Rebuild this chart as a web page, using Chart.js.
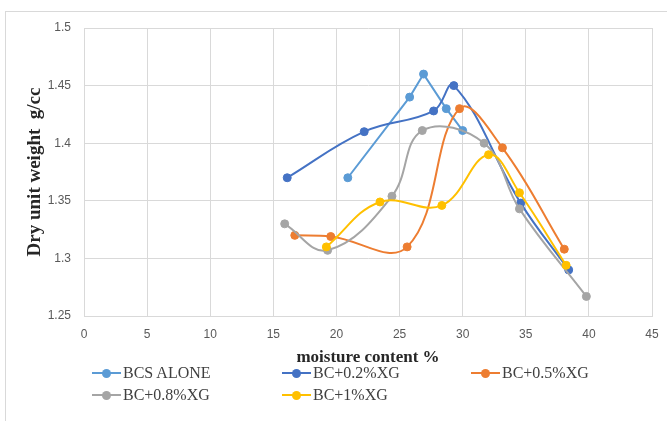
<!DOCTYPE html>
<html>
<head>
<meta charset="utf-8">
<script src="https://cdn.jsdelivr.net/npm/chart.js@4.4.1/dist/chart.umd.min.js"></script>
<style>
  html, body { margin: 0; padding: 0; background: #fff; }
  #wrap { position: relative; width: 667px; height: 421px; overflow: hidden; }
  #frame { position: absolute; left: 5px; top: 11px; width: 700px; height: 500px; border: 1px solid #d9d9d9; }
  #myChart { position: absolute; left: 0; top: 0; }
  .leg { position: absolute; font-family: "Liberation Serif", "Times New Roman", serif; font-size: 16px; color: #404040; height: 20px; line-height: 20px; white-space: nowrap; }
  .leg .ln { position: absolute; left: 0; top: 9px; width: 29px; height: 2px; }
  .leg .dot { position: absolute; left: 10px; top: 6px; width: 9px; height: 9px; border-radius: 50%; }
  .leg .tx { position: absolute; left: 31px; top: 0; }
</style>
</head>
<body>
<div id="wrap">
  <div id="frame"></div>
  <canvas id="myChart" width="667" height="421"></canvas>
</div>
<script>
// series names + colours (Excel office palette)
const seriesNames = ['BCS ALONE', 'BC+0.2%XG', 'BC+0.5%XG', 'BC+0.8%XG', 'BC+1%XG']
const seriesColors = ['#5B9BD5', '#4472C4', '#ED7D31', '#A5A5A5', '#FFC000']

// moisture content % / dry unit weight g/cc
const bcsX = [20.9, 25.8, 26.9, 28.7, 30.0]
const bcsY = [1.370, 1.440, 1.460, 1.430, 1.411]

const xg02X = [16.1, 22.2, 27.7, 29.3, 34.6, 38.4]
const xg02Y = [1.370, 1.410, 1.428, 1.450, 1.348, 1.290]

const xg05X = [16.7, 19.55, 25.6, 29.75, 33.15, 38.05]
const xg05Y = [1.320, 1.319, 1.310, 1.430, 1.396, 1.308]

const xg08X = [15.9, 19.3, 24.4, 26.8, 31.7, 34.5, 39.8]
const xg08Y = [1.330, 1.307, 1.354, 1.411, 1.400, 1.343, 1.267]

const xg1X = [19.2, 23.45, 28.35, 32.05, 34.5, 38.2]
const xg1Y = [1.310, 1.349, 1.346, 1.390, 1.357, 1.294]

const xTicks = [0, 5, 10, 15, 20, 25, 30, 35, 40, 45]
const yTickLabels = ['1.25', '1.3', '1.35', '1.4', '1.45', '1.5']

const allX = [bcsX, xg02X, xg05X, xg08X, xg1X]
const allY = [bcsY, xg02Y, xg05Y, xg08Y, xg1Y]

const ctx = document.querySelector('#myChart')
const tickFont = { family: '"Liberation Sans", Arial, sans-serif', size: 12 }
const serif = '"Liberation Serif", "Times New Roman", serif'

const datasets = seriesNames.map((name, i) => ({
    label: name,
    data: allX[i].map((x, j) => ({ x: x, y: allY[i][j] })),
    showLine: true,
    borderColor: seriesColors[i],
    backgroundColor: seriesColors[i],
    pointBackgroundColor: seriesColors[i],
    pointBorderColor: seriesColors[i],
    borderWidth: 2,
    pointRadius: 4,
    pointBorderWidth: 1,
    tension: i === 0 ? 0 : 0.4,
    order: seriesNames.length - i
}))

new Chart(ctx, {
    type: 'scatter',
    data: { datasets: datasets },
    options: {
        responsive: false,
        animation: false,
        devicePixelRatio: 1,
        layout: { padding: { left: 24, top: 28, right: 15, bottom: 53 } },
        plugins: { legend: { display: false }, tooltip: { enabled: false } },
        scales: {
            x: {
                type: 'linear',
                min: 0,
                max: 45,
                afterBuildTicks: s => { s.ticks = xTicks.map(v => ({ value: v })) },
                afterFit: s => { s.height = 52; s.paddingLeft = 0; s.paddingRight = 0 },
                grid: { color: '#d9d9d9', drawTicks: false },
                border: { color: '#d9d9d9' },
                ticks: { color: '#595959', font: tickFont, padding: 11, maxRotation: 0 },
                title: { display: true, text: 'moisture content %', color: '#262626', font: { family: serif, size: 17, weight: 'bold' }, padding: 0 }
            },
            y: {
                type: 'linear',
                min: 1.25,
                max: 1.5,
                afterBuildTicks: s => { s.ticks = yTickLabels.map(v => ({ value: parseFloat(v) })) },
                afterFit: s => { s.width = 60; s.paddingTop = 0; s.paddingBottom = 0 },
                grid: { color: '#d9d9d9', drawTicks: false },
                border: { color: '#d9d9d9' },
                ticks: {
                    color: '#595959', font: tickFont, padding: 13,
                    callback: (v, idx) => yTickLabels[idx]
                },
                title: { display: true, text: 'Dry unit weight  g/cc', color: '#262626', font: { family: serif, size: 19, weight: 'bold' }, padding: 0 }
            }
        }
    }
})

// legend laid out like the Excel one (3 columns, 2 rows)
const wrap = document.querySelector('#wrap')
const legCols = [92, 282, 471]
const legRows = [363, 385]
seriesNames.forEach((name, i) => {
    const el = document.createElement('div')
    el.className = 'leg'
    el.style.left = legCols[i % 3] + 'px'
    el.style.top = legRows[Math.floor(i / 3)] + 'px'
    el.innerHTML = `<span class="ln" style="background:${seriesColors[i]}"></span>` +
        `<span class="dot" style="background:${seriesColors[i]}"></span>` +
        `<span class="tx"></span>`
    el.querySelector('.tx').textContent = name
    wrap.append(el)
})
</script>
</body>
</html>
